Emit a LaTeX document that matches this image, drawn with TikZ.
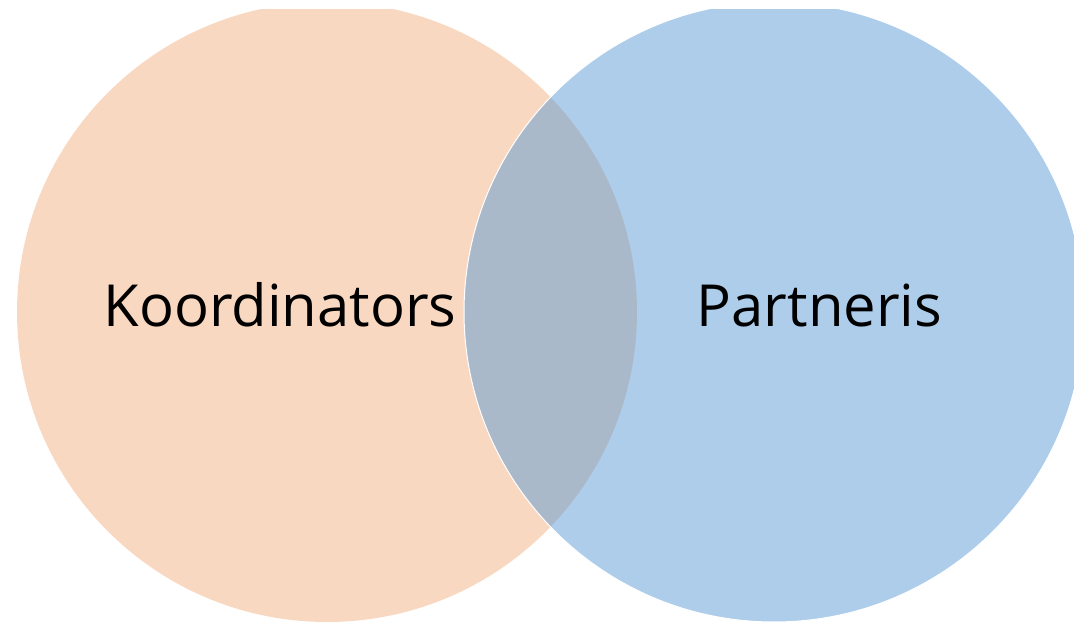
\documentclass[tikz,border=0pt]{standalone}
\usepackage{fontspec}
\setmainfont{Open Sans}
\usepackage{tikz}
\definecolor{peach}{HTML}{F4B183}
\definecolor{steel}{HTML}{5B9BD5}
\tikzstyle{setA}=[circle, fill=peach, fill opacity=0.5, minimum size=620pt, inner sep=0pt]
\tikzstyle{setB}=[circle, fill=steel, fill opacity=0.5, draw=white, line width=1pt, minimum size=620pt, inner sep=0pt]
\tikzstyle{label}=[font=\fontsize{58}{60}\selectfont, anchor=base, inner sep=0pt]

\begin{document}
\begin{tikzpicture}[x=1pt, y=1pt]
                    \useasboundingbox (0, 0) rectangle (1074, 624);
                    \clip (0, 0) rectangle (1074, 614);
                    \node[setA] (koord) at (327, 312) {};
                    \node[setB] (part)  at (774, 312) {};
                    \node[label] (kt) at (280, 297) {Koordinators};
                    \node[label] (pt) at (819.5, 297) {Partneris};
                \end{tikzpicture}
\end{document}
